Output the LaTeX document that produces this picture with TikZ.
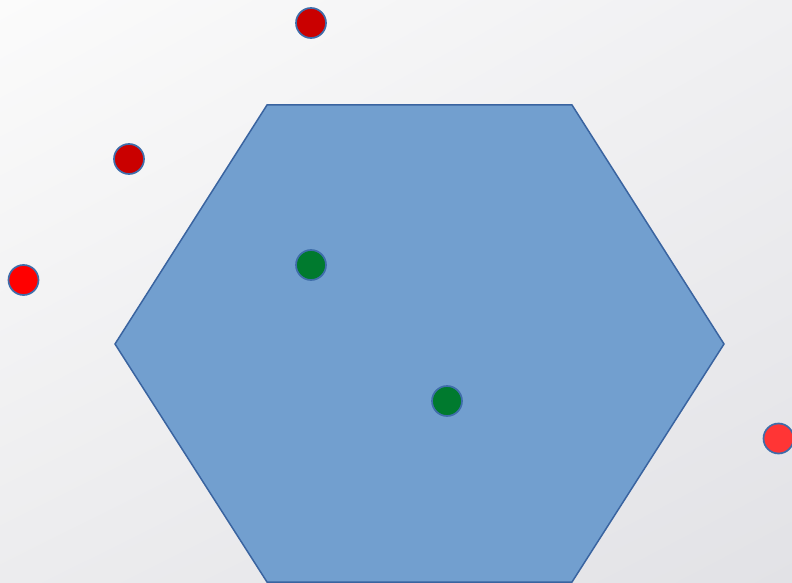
\documentclass[tikz,border=0pt]{standalone}
\usetikzlibrary{shadings}
\definecolor{bgtl}{HTML}{FBFBFB}
\definecolor{bgtr}{HTML}{F0F0F2}
\definecolor{bgbl}{HTML}{ECECEE}
\definecolor{bgbr}{HTML}{E2E2E6}
\definecolor{hexfill}{HTML}{729FCF}
\definecolor{hexline}{HTML}{3A64A0}
\definecolor{dotline}{HTML}{3F6DAA}
\definecolor{darkred}{HTML}{CA0000}
\definecolor{purered}{HTML}{FF0000}
\definecolor{lightred}{HTML}{FF3535}
\definecolor{dotgreen}{HTML}{007A2E}
\tikzset{
  dot/.style={circle, draw=dotline, line width=1.7pt, minimum size=30pt, inner sep=0pt},
  hexshape/.style={fill=hexfill, draw=hexline, line width=1.5pt, line join=miter}
}
\begin{document}
\begin{tikzpicture}[x=1pt,y=-1pt]
\useasboundingbox (0,0) rectangle (792,583);
\shade[upper left=bgtl, upper right=bgtr, lower left=bgbl, lower right=bgbr] (0,0) rectangle (792,583);
\coordinate (h1) at (267,105);
\coordinate (h2) at (572,105);
\coordinate (h3) at (724,344);
\coordinate (h4) at (572,582);
\coordinate (h5) at (267,582);
\coordinate (h6) at (115,344);
\draw[hexshape] (h1) -- (h2) -- (h3) -- (h4) -- (h5) -- (h6) -- cycle;
\node[dot, fill=darkred] (r1) at (311,23) {};
\node[dot, fill=darkred] (r2) at (129,159) {};
\node[dot, fill=purered] (r3) at (23.5,280) {};
\node[dot, fill=lightred] (r4) at (778.5,438.5) {};
\node[dot, fill=dotgreen] (g1) at (311,265) {};
\node[dot, fill=dotgreen] (g2) at (447,401) {};
\end{tikzpicture}
\end{document}
